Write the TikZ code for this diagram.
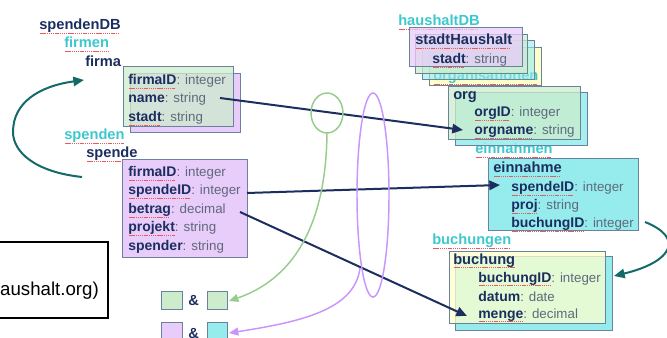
\documentclass[tikz,border=0pt]{standalone}
\usepackage{fontspec}
\setmainfont{Liberation Sans}
\usetikzlibrary{arrows.meta}

\definecolor{navy}{RGB}{28,46,96}
\definecolor{aqua}{RGB}{60,200,205}
\definecolor{typegray}{RGB}{95,105,125}
\definecolor{boxline}{RGB}{105,130,160}
\definecolor{greenfill}{RGB}{204,236,204}
\definecolor{purplefill}{RGB}{232,204,250}
\definecolor{cyanfill}{RGB}{150,236,236}
\definecolor{yellowfill}{RGB}{255,255,204}
\definecolor{tealarrow}{RGB}{20,105,105}
\definecolor{greenarrow}{RGB}{150,205,140}
\definecolor{purplearrow}{RGB}{200,150,250}
\definecolor{spellred}{RGB}{235,90,90}

% dotted red underline under a word
\newcommand\spellmark[1]{\setbox0=\hbox{#1}\rlap{\raisebox{-2.4pt}{\color{spellred}\hbox to \wd0{\leaders\hbox to 1.4pt{\hss\rule{0.9pt}{0.45pt}\hss}\hfill}}}\box0}
% attribute type after a field name
\newcommand\ftype[1]{{\mdseries\fontsize{10}{12}\selectfont\color{typegray}#1}}

\tikzset{
  field/.style={inner sep=0pt, anchor=base west, text=navy,
    font=\bfseries\fontsize{10.5}{12}\selectfont},
  entity/.style={inner sep=0pt, anchor=base west, text=navy,
    font=\bfseries\fontsize{11}{13}\selectfont},
  coll/.style={inner sep=0pt, anchor=base west, text=aqua,
    font=\bfseries\fontsize{11}{13}\selectfont},
  tbl/.style={draw=boxline, line width=0.75pt},
  front/.style={tbl, fill opacity=0.75},
  navyarrow/.style={draw=navy, line width=1.5pt,
    -{Triangle[length=8pt,width=7pt]}},
  tealconn/.style={draw=tealarrow, line width=1.5pt,
    -{Triangle[length=8pt,width=7pt]}},
  greenconn/.style={draw=greenarrow, line width=1.1pt,
    -{Triangle[length=7pt,width=6pt]}},
  purpleconn/.style={draw=purplearrow, line width=1.1pt,
    -{Triangle[length=7pt,width=6pt]}},
  swatch/.style={tbl},
}

\begin{document}
\begin{tikzpicture}[x=0.75pt,y=-0.75pt]
\useasboundingbox (0,0) rectangle (667,338);

% ---------- spendenDB ----------
\node[entity] (spendenDB) at (39,30) {\spellmark{spendenDB}};
\node[coll] (firmen) at (64,48) {\spellmark{firmen}};
\node[entity] (firma) at (85,67) {firma};

\path[tbl, fill=purplefill] (130,74) rectangle (240,133);
\path[front, fill=greenfill] (123,67) rectangle (233,127);
\node[field] (firmaID) at (128,85) {\spellmark{firmaID}\ftype{: integer}};
\node[field] (fname) at (128,103) {name\ftype{: string}};
\node[field] (fstadt) at (128,122) {\spellmark{stadt}\ftype{: string}};

\node[coll] (spenden) at (64,140) {\spellmark{spenden}};
\node[entity] (spende) at (86,158) {\spellmark{spende}};

\path[tbl, fill=purplefill] (122,160) rectangle (247,258);
\node[field] (sfirmaID) at (128,177) {\spellmark{firmaID}\ftype{: integer}};
\node[field] (sspendeID) at (128,195) {\spellmark{spendeID}\ftype{: integer}};
\node[field] (sbetrag) at (128,214) {\spellmark{betrag}\ftype{: decimal}};
\node[field] (sprojekt) at (128,232) {\spellmark{projekt}\ftype{: string}};
\node[field] (sspender) at (128,251) {spender\ftype{: string}};

% ---------- haushaltDB ----------
\node[coll] (haushaltDB) at (398,26) {\spellmark{haushaltDB}};
\path[tbl, fill=yellowfill] (429,48) rectangle (541,86);
\node[coll] (orgs) at (433,81) {\spellmark{organisationen}};
\path[tbl, fill=cyanfill, fill opacity=0.6] (422,41) rectangle (534,80);
\path[front, fill=greenfill] (415,35) rectangle (527,74);
\path[front, fill=purplefill] (409,28) rectangle (522,67);
\node[entity] (stadtHaushalt) at (415,45) {\spellmark{stadtHaushalt}};
\node[field] (hstadt) at (432,64) {\spellmark{stadt}\ftype{: string}};

\node[coll] (einnahmen) at (475,154) {\spellmark{einnahmen}};
\path[tbl, fill=cyanfill, fill opacity=0.85] (455,93) rectangle (587,146);
\path[front, fill=greenfill] (448,87) rectangle (580,140);
\node[entity] (org) at (453,100) {org};
\node[field] (orgID) at (474,117) {\spellmark{orgID}\ftype{: integer}};
\node[field] (orgname) at (474,135) {\spellmark{orgname}\ftype{: string}};

\path[tbl, fill=cyanfill] (488,159) rectangle (638,231);
\node[entity] (einnahme) at (493,173) {\spellmark{einnahme}};
\node[field] (espendeID) at (511,192) {\spellmark{spendeID}\ftype{: integer}};
\node[field] (eproj) at (511,210) {\spellmark{proj}\ftype{: string}};
\node[field] (ebuchungID) at (511,228) {\spellmark{buchungID}\ftype{: integer}};

\node[coll] (buchungen) at (432,245) {\spellmark{buchungen}};
\path[tbl, fill=cyanfill] (455,257) rectangle (612,330);
\path[front, fill=yellowfill] (449,252) rectangle (605,323);
\node[entity] (buchung) at (453,264) {\spellmark{buchung}};
\node[field] (bbuchungID) at (478,282) {\spellmark{buchungID}\ftype{: integer}};
\node[field] (bdatum) at (478,301) {datum\ftype{: date}};
\node[field] (bmenge) at (478,318) {\spellmark{menge}\ftype{: decimal}};

% ---------- note box (cut at the left edge) ----------
\draw[line width=1.5pt] (-10,242) rectangle (108,318);
\node[inner sep=0pt, anchor=base east, font=\fontsize{14}{16}\selectfont]
  (note) at (99,296) {aushalt.org)};

% ---------- pair swatches ----------
\path[swatch, fill=greenfill] (161,291) rectangle (182,309);
\node[entity] (amp1) at (188,305) {\&};
\path[swatch, fill=greenfill] (207,291) rectangle (227,309);
\coordinate (pairGreen) at (229,301);
\path[swatch, fill=purplefill] (161,322) rectangle (182,342);
\node[entity] (amp2) at (188,338) {\&};
\path[swatch, fill=cyanfill] (207,322) rectangle (227,342);
\coordinate (pairPurple) at (229,333);

% ---------- key connectors ----------
\coordinate (nameOut) at (220,98);
\coordinate (orgnameIn) at (463,130);
\coordinate (spendeOut) at (247,193);
\coordinate (spendeIn) at (500,185);
\coordinate (betragOut) at (240,212);
\coordinate (mengeIn) at (467,316);
\draw[navyarrow] (nameOut) -- (orgnameIn);
\draw[navyarrow] (spendeOut) -- (spendeIn);
\draw[navyarrow] (betragOut) -- (mengeIn);

% nesting arrows
\coordinate (spendeTail) at (82,177);
\coordinate (firmaHead) at (84,80);
\draw[tealconn] (spendeTail) .. controls (35,172) and (13,152) .. (13,132)
  .. controls (13,102) and (40,86) .. (firmaHead);
\coordinate (buchTail) at (645,222);
\coordinate (buchHead) at (614,276);
\draw[tealconn] (buchTail) .. controls (685,238) and (672,262) .. (buchHead);

% lasso loops
\coordinate (greenLoop) at (327,113);
\draw[draw=greenarrow, line width=1.1pt] (greenLoop) ellipse [x radius=16, y radius=20];
\coordinate (greenStem) at (327,133);
\draw[greenconn] (greenStem) .. controls (326,230) and (290,280) .. (pairGreen);

\coordinate (purpleLoop) at (373,195);
\draw[draw=purplearrow, line width=1.1pt] (purpleLoop) ellipse [x radius=16, y radius=102];
\coordinate (purpleStem) at (360,268);
\draw[purpleconn] (purpleStem) .. controls (355,310) and (300,322) .. (pairPurple);
\end{tikzpicture}
\end{document}
